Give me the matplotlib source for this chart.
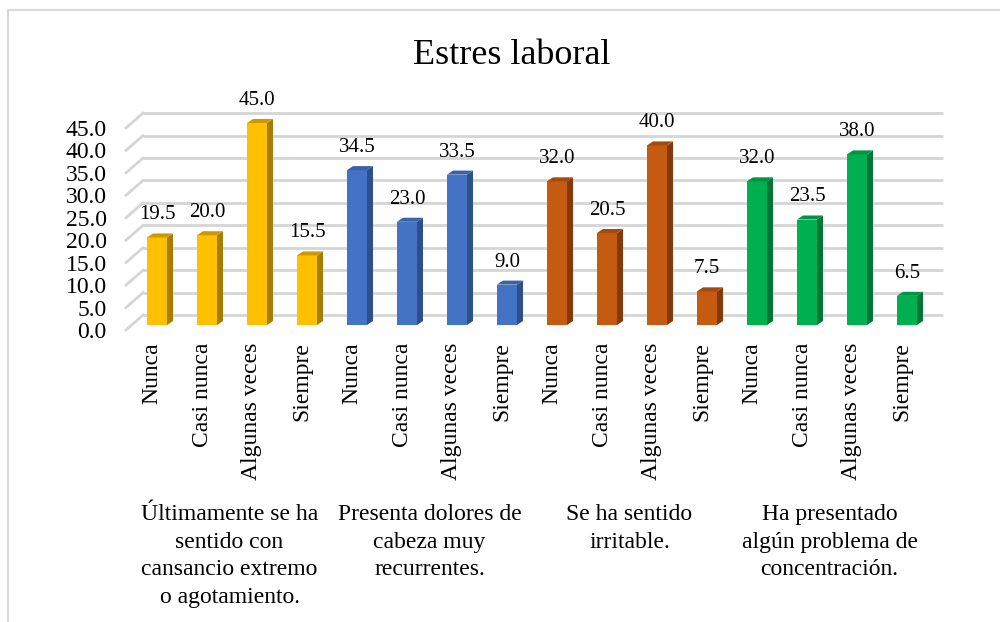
import matplotlib.pyplot as plt
from matplotlib.patches import Polygon, Rectangle
from matplotlib.transforms import blended_transform_factory

plt.rcParams['font.family'] = ['Liberation Serif', 'DejaVu Serif']

# datos
categorias = ['Nunca', 'Casi nunca', 'Algunas veces', 'Siempre']
grupos = ['Últimamente se ha\nsentido con\ncansancio extremo\no agotamiento.',
          'Presenta dolores de\ncabeza muy\nrecurrentes.',
          'Se ha sentido\nirritable.',
          'Ha presentado\nalgún problema de\nconcentración.']
cansancio = [19.5, 20.0, 45.0, 15.5]
dolores = [34.5, 23.0, 33.5, 9.0]
irritable = [32.0, 20.5, 40.0, 7.5]
concentracion = [32.0, 23.5, 38.0, 6.5]
yticks = [0, 5, 10, 15, 20, 25, 30, 35, 40, 45]

series = [cansancio, dolores, irritable, concentracion]
colores = [('#FFC000', '#A67D00', '#CC9A00'),
           ('#4472C4', '#2D4F8C', '#3A62A8'),
           ('#C55A11', '#83390A', '#A34A0E'),
           ('#00B050', '#00753A', '#009444')]

fig = plt.figure(figsize=(10, 6.22), dpi=100)
ax = fig.add_axes([0.126, 0.4695, 0.8, 0.3248])

x0, x1 = -0.45, 15.55
ax.set_xlim(x0, x1)
ax.set_ylim(0, 45)

# profundidad de la pared del fondo y de las barras (en unidades de datos)
wdx, wdy = 0.34, 3.3
bdx, bdy = 0.17, 1.1
sdx, sdy = 0.12, 0.9
w = 0.4

# rejilla en la pared del fondo
for v in yticks:
    ax.plot([x0 + wdx, x1 + wdx], [v + wdy, v + wdy], color='#d5d5d5',
            lw=2, clip_on=False, zorder=1, solid_capstyle='butt')
    ax.plot([x0, x0 + wdx], [v, v + wdy], color='#d5d5d5', lw=2,
            clip_on=False, zorder=1)

xs = []
for g, (serie, (c_front, c_side, c_top)) in enumerate(zip(series, colores)):
    for k, v in enumerate(serie):
        i = g * 4 + k
        xc = i + bdx
        ax.bar(xc, v, bottom=bdy, width=w, color=c_front, zorder=3,
               clip_on=False)
        top = v + bdy
        ax.add_patch(Polygon([(xc + w / 2, bdy), (xc + w / 2 + sdx, bdy + sdy),
                              (xc + w / 2 + sdx, top + sdy), (xc + w / 2, top)],
                             closed=True, facecolor=c_side, edgecolor='none',
                             zorder=3, clip_on=False))
        ax.add_patch(Polygon([(xc - w / 2, top), (xc - w / 2 + sdx, top + sdy),
                              (xc + w / 2 + sdx, top + sdy), (xc + w / 2, top)],
                             closed=True, facecolor=c_top, edgecolor='none',
                             zorder=3, clip_on=False))
        ax.annotate(f'{v:.1f}', (xc, top), xytext=(0, 13),
                    textcoords='offset points', ha='center', va='baseline',
                    fontsize=15, annotation_clip=False)
        xs.append(i + 0.07)

ax.set_xticks(xs)
ax.set_xticklabels(categorias * 4, rotation=90, fontsize=17)
ax.set_yticks(yticks)
ax.set_yticklabels([f'{v:.1f}' for v in yticks], fontsize=17)
ax.tick_params(axis='x', length=0, pad=9)
ax.tick_params(axis='y', length=0, pad=14)
for s in ax.spines.values():
    s.set_visible(False)
ax.patch.set_visible(False)

# etiquetas de grupo
trans = blended_transform_factory(ax.transData, fig.transFigure)
for g, texto in enumerate(grupos):
    xc = g * 4 + 1.45 + bdx
    ax.text(xc, 0.19, texto, transform=trans, ha='center', va='top',
            fontsize=17, linespacing=1.42)

fig.suptitle('Estres laboral', fontsize=26, x=0.512, y=0.937)

fig.patches.append(Rectangle((0.008, -0.1), 1.1, 1.084, transform=fig.transFigure,
                             fill=False, edgecolor='#d9d9d9', lw=1.5))

fig.savefig('out.png', dpi=100)
